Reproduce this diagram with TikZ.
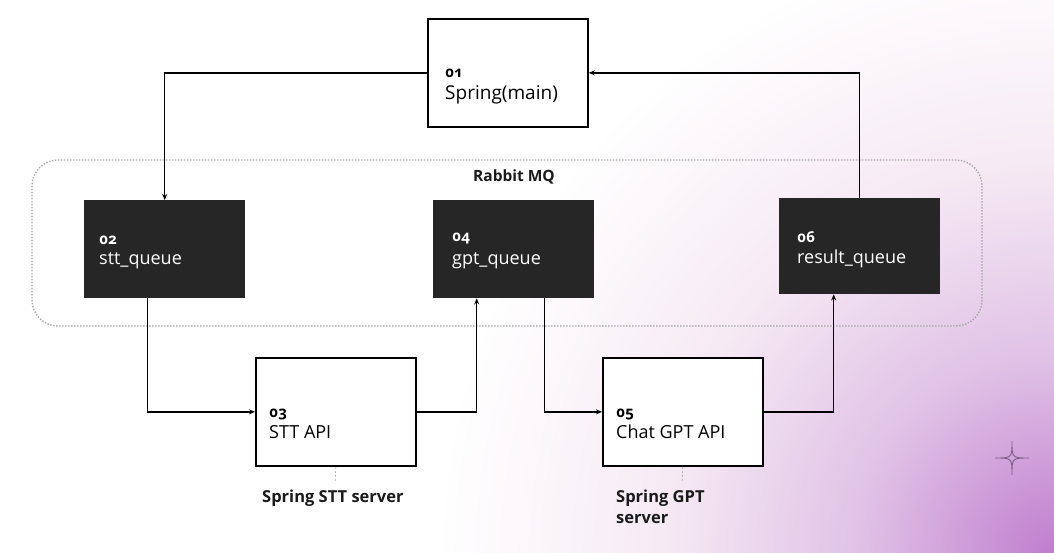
\documentclass[tikz,border=0pt]{standalone}
\usepackage{fontspec}
\setmainfont{Open Sans}
\newfontfamily\numfont[Numbers=OldStyle]{Open Sans}
\usetikzlibrary{arrows.meta}
\definecolor{qfill}{HTML}{262626}
\definecolor{cz}{HTML}{C07ECE}
\definecolor{ca}{HTML}{E0C2E6}
\definecolor{cb}{HTML}{F6EAF4}
\definecolor{dotgray}{HTML}{A8A8A8}
\definecolor{sparkc}{HTML}{7E6084}
\definecolor{lbl}{HTML}{1A1A1A}
\pgfdeclareradialshading{glow}{\pgfpoint{0bp}{0bp}}{color(0bp)=(cz); color(7bp)=(ca); color(14bp)=(cb); color(22bp)=(white); color(50bp)=(white)}
\tikzset{
  wbox/.style={draw=black, line width=1.8pt, fill=white, minimum width=160pt, minimum height=108pt, inner sep=0pt, anchor=north west},
  qbox/.style={draw=none, fill=qfill, minimum width=161pt, minimum height=98pt, inner sep=0pt, anchor=north west},
  numtxt/.style={font=\numfont\bfseries\fontsize{15}{15}\selectfont, anchor=base west, inner sep=0pt},
  maintxt/.style={font=\fontsize{18}{18}\selectfont, anchor=base west, inner sep=0pt},
  conn/.style={draw=black, line width=1.5pt, -{Stealth[length=6pt,width=5pt]}},
  tie/.style={draw=gray!70, line width=0.7pt, dash pattern=on 2pt off 2pt},
  sublbl/.style={font=\bfseries\fontsize{16.5}{21}\selectfont, text=lbl, anchor=base west, inner sep=0pt, align=left},
}
\begin{document}
\begin{tikzpicture}[x=1pt,y=-1pt]
\useasboundingbox (0,0) rectangle (1054,553);
\fill[white] (0,0) rectangle (1054,553);
\begin{scope}
\clip (0,0) rectangle (1054,553);
\shade[shading=glow] (1054,553) circle (700pt);
\end{scope}
% sparkle
\draw[sparkc, line width=0.9pt] (1012,441) .. controls (1012,458) .. (1029,458) .. controls (1012,458) .. (1012,475) .. controls (1012,458) .. (995,458) .. controls (1012,458) .. (1012,441);
% Rabbit MQ container
\draw[dotgray, line width=1.4pt, dash pattern=on 1.4pt off 1.6pt, rounded corners=26pt] (32,160) rectangle (982,326);
\node[font=\bfseries\fontsize{15.5}{16}\selectfont, text=lbl, anchor=base, inner sep=0pt] (rmq) at (514,182) {Rabbit MQ};
% boxes
\node[wbox] (b1) at (427,18) {};
\node[qbox] (b2) at (84,200) {};
\node[wbox] (b3) at (255,357) {};
\node[qbox] (b4) at (433,200) {};
\node[wbox] (b5) at (602,357) {};
\node[qbox, minimum height=96pt] (b6) at (779,198) {};
% texts
\node[numtxt] (n1) at (445,78) {01};
\node[maintxt, font=\fontsize{19}{19}\selectfont] (m1) at (445,100) {Spring(main)};
\node[numtxt, text=white] (n2) at (99,244) {02};
\node[maintxt, text=white] (m2) at (99,265) {stt\_queue};
\node[numtxt] (n3) at (269,417) {03};
\node[maintxt] (m3) at (269,438) {STT API};
\node[numtxt, text=white] (n4) at (452,242) {04};
\node[maintxt, text=white] (m4) at (452,265) {gpt\_queue};
\node[numtxt] (n5) at (616,417) {05};
\node[maintxt] (m5) at (616,438) {Chat GPT API};
\node[numtxt, text=white] (n6) at (797,243) {06};
\node[maintxt, text=white] (m6) at (797,263) {result\_queue};
% sub labels
\coordinate (s3) at (335,483);
\coordinate (s5) at (682,483);
\draw[tie] (b3.south) -- (s3);
\draw[tie] (b5.south) -- (s5);
\node[sublbl] (l3) at (262,502) {Spring STT server};
\node[sublbl] (l5) at (616,523) {Spring GPT\\server};
% connectors
\draw[conn] (b1.west) -| (b2.north);
\draw[conn] (b6.north) |- (b1.east);
\draw[conn] ([xshift=-17pt]b2.south) |- (b3.west);
\draw[conn] (b3.east) -| ([xshift=-37pt]b4.south);
\draw[conn] ([xshift=31pt]b4.south) |- (b5.west);
\draw[conn] (b5.east) -| ([xshift=-26pt]b6.south);
\end{tikzpicture}
\end{document}
